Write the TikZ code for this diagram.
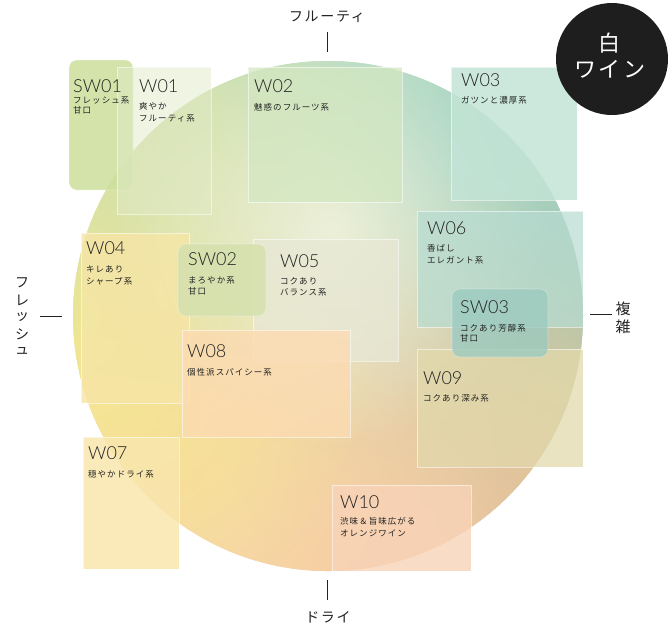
\documentclass[tikz,border=0pt]{standalone}
\usepackage{fontspec}
\setmainfont{TeX Gyre Heros}
\newfontfamily\codefont{Lato}[UprightFont=* Light]
\newfontfamily\jp{Noto Sans CJK JP}[LetterSpace=12]
\usetikzlibrary{fadings}
\tikzfading[name=blobfade, inner color=transparent!0, outer color=transparent!100]
\definecolor{cbase}{HTML}{EAECD2}
\definecolor{bA}{HTML}{C4DFB0}
\definecolor{bB}{HTML}{9ED4C4}
\definecolor{bC}{HTML}{9ACDC1}
\definecolor{bD}{HTML}{D0C393}
\definecolor{bE}{HTML}{F7C4A2}
\definecolor{bF}{HTML}{F9DAA2}
\definecolor{bG}{HTML}{F5E88C}
\definecolor{bH}{HTML}{D6E2A6}
\definecolor{bI}{HTML}{EDF0D9}
\definecolor{rSWa}{HTML}{CDDF9E}
\definecolor{rWa}{HTML}{E0E9C8}
\definecolor{rWb}{HTML}{D3E7C1}
\definecolor{rWc}{HTML}{C3E4D6}
\definecolor{rWd}{HTML}{F6E5A6}
\definecolor{rSWb}{HTML}{D5E1AE}
\definecolor{rWe}{HTML}{E8E8D6}
\definecolor{rWh}{HTML}{FCDBB2}
\definecolor{rWf}{HTML}{B7DCD2}
\definecolor{rSWc}{HTML}{9CCABF}
\definecolor{rWi}{HTML}{E2D9AC}
\definecolor{rWg}{HTML}{F9E6AD}
\definecolor{rWj}{HTML}{F8D3B8}
\definecolor{ink}{HTML}{222222}
\definecolor{badge}{HTML}{1E1E1E}
\begin{document}
\begin{tikzpicture}[x=1pt,y=-1pt,
  blob/.style={fill=#1, path fading=blobfade},
  wbox/.style={fill=#1, fill opacity=0.8, draw=white, draw opacity=0.55, line width=0.8pt},
  swbox/.style={fill=#1, fill opacity=0.88, draw=white, draw opacity=0.35, line width=0.6pt, rounded corners=8pt},
  code/.style={anchor=base west, inner sep=0pt, text=ink, font=\codefont\fontsize{18}{20}\selectfont},
  desc/.style={anchor=base west, inner sep=0pt, text=ink, font=\jp\fontsize{8.5}{11}\selectfont},
  axis/.style={inner sep=0pt, text=ink, font=\jp\fontsize{14}{16}\selectfont},
  tick/.style={draw=ink, line width=0.7pt},
  badgetext/.style={inner sep=0pt, text=white, font=\jp\fontsize{22}{24}\selectfont}
]
\useasboundingbox (0,0) rectangle (671,627);

% gradient disc
\begin{scope}
  \clip (328,316) circle (255);
  \fill[cbase] (328,316) circle (255);
  \fill[blob=bA] (260,100) circle (400);
  \fill[blob=bB] (500,150) circle (460);
  \fill[blob=bC] (590,310) circle (300);
  \fill[blob=bD] (540,480) circle (320);
  \fill[blob=bE] (340,590) circle (400);
  \fill[blob=bF] (170,480) circle (340);
  \fill[blob=bG] (70,320) circle (320);
  \fill[blob=bH] (140,160) circle (240);
  \fill[blob=bI] (330,230) circle (220);
\end{scope}

% boxes
\path[swbox=rSWa] (69,60) rectangle (133,190);
\path[wbox=rWa, fill opacity=0.5] (117,67) rectangle (211,214);
\path[wbox=rWb, fill opacity=0.75] (248,67) rectangle (402,202);
\path[wbox=rWc, fill opacity=0.85] (451,67) rectangle (577,200);
\path[wbox=rWd] (81,233) rectangle (189,403);
\path[wbox=rWe, fill opacity=0.75] (253,239) rectangle (398,361);
\path[swbox=rSWb] (178,244) rectangle (266,316);
\path[wbox=rWh] (182,330) rectangle (350,437);
\path[wbox=rWf, fill opacity=0.7] (417,211) rectangle (583,327);
\path[wbox=rWi, fill opacity=0.75] (417,349) rectangle (583,467);
\path[swbox=rSWc, fill opacity=0.8] (452,289) rectangle (548,357);
\path[wbox=rWg, fill opacity=0.85] (83,437) rectangle (179,569);
\path[wbox=rWj] (332,485) rectangle (471,571);

% labels
\node[code] (tSW01) at (73,92) {SW01};
\node[desc] (dSW01a) at (73,103) {フレッシュ系};
\node[desc] (dSW01b) at (73,113) {甘口};

\node[code] (tW01) at (139,92) {W01};
\node[desc] (dW01a) at (139,109) {爽やか};
\node[desc] (dW01b) at (139,121) {フルーティ系};

\node[code] (tW02) at (254,92) {W02};
\node[desc] (dW02a) at (254,110) {魅惑のフルーツ系};

\node[code] (tW03) at (461,86) {W03};
\node[desc] (dW03a) at (461,103) {ガツンと濃厚系};

\node[code] (tW04) at (86,254) {W04};
\node[desc] (dW04a) at (86,272) {キレあり};
\node[desc] (dW04b) at (86,284) {シャープ系};

\node[code] (tSW02) at (188,265) {SW02};
\node[desc] (dSW02a) at (188,283) {まろやか系};
\node[desc] (dSW02b) at (188,294) {甘口};

\node[code] (tW05) at (280,267) {W05};
\node[desc] (dW05a) at (280,284) {コクあり};
\node[desc] (dW05b) at (280,295) {バランス系};

\node[code] (tW08) at (187,357) {W08};
\node[desc] (dW08a) at (187,375) {個性派スパイシー系};

\node[code] (tW06) at (427,234) {W06};
\node[desc] (dW06a) at (427,251) {香ばし};
\node[desc] (dW06b) at (427,263) {エレガント系};

\node[code] (tSW03) at (460,313) {SW03};
\node[desc] (dSW03a) at (460,331) {コクあり芳醇系};
\node[desc] (dSW03b) at (460,341) {甘口};

\node[code] (tW09) at (423,384) {W09};
\node[desc] (dW09a) at (423,401) {コクあり深み系};

\node[code] (tW07) at (88,459) {W07};
\node[desc] (dW07a) at (88,477) {穏やかドライ系};

\node[code] (tW10) at (340,508) {W10};
\node[desc] (dW10a) at (340,524) {渋味＆旨味広がる};
\node[desc] (dW10b) at (340,536) {オレンジワイン};

% axes
\node[axis] (aTop) at (327,17) {フルーティ};
\coordinate (tTa) at (327,32); \coordinate (tTb) at (327,52);
\draw[tick] (tTa) -- (tTb);

\node[axis] (aBot) at (328,617) {ドライ};
\coordinate (tBa) at (327,580); \coordinate (tBb) at (327,600);
\draw[tick] (tBa) -- (tBb);

\node[axis] (aL1) at (22,283) {フ};
\node[axis] (aL2) at (22,300) {レ};
\node[axis] (aL3) at (22,317) {ッ};
\node[axis] (aL4) at (22,334) {シ};
\node[axis] (aL5) at (22,351) {ュ};
\coordinate (tLa) at (40,316); \coordinate (tLb) at (62,316);
\draw[tick] (tLa) -- (tLb);

\node[axis, font=\jp\fontsize{15}{16}\selectfont] (aR1) at (623,309) {複};
\node[axis, font=\jp\fontsize{15}{16}\selectfont] (aR2) at (623,327) {雑};
\coordinate (tRa) at (590,314); \coordinate (tRb) at (612,314);
\draw[tick] (tRa) -- (tRb);

% badge
\node[circle, fill=badge, minimum size=112pt, inner sep=0pt] (badge) at (612,59) {};
\node[badgetext] (bW1) at (609,43) {白};
\node[badgetext] (bW2) at (610,69) {ワイン};
\end{tikzpicture}
\end{document}
